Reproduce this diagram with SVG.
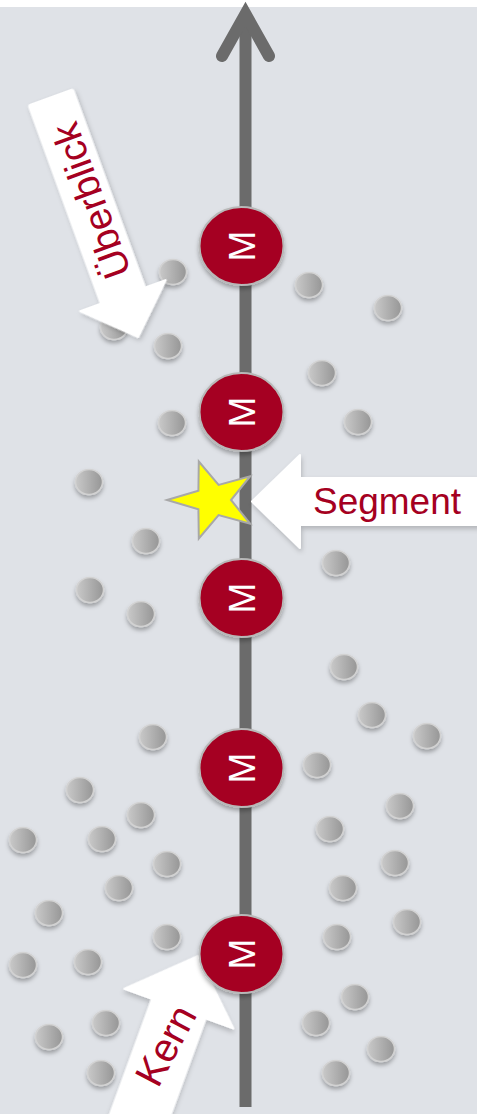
<svg xmlns="http://www.w3.org/2000/svg" width="477" height="1114" viewBox="0 0 477 1114">
<style>
.dot{fill:url(#dotg);stroke:#d2d2d2;stroke-width:1.5;filter:url(#sh)}
.m{fill:#a50021;stroke:#b8b8b8;stroke-width:2;filter:url(#sh)}
.mt{font-family:"Liberation Sans",Arial,sans-serif;font-size:37px;fill:#ffffff;text-anchor:middle}
.lbl{font-family:"Liberation Sans",Arial,sans-serif;font-size:37px;fill:#a50021;text-anchor:middle}
.arr{fill:#ffffff;stroke:#ffffff;stroke-width:2;stroke-linejoin:round;filter:url(#sh2)}
</style>
<defs>
<linearGradient id="dotg" x1="0" y1="0" x2="1" y2="0">
<stop offset="0" stop-color="#c9c9c9"/>
<stop offset="1" stop-color="#969696"/>
</linearGradient>
<filter id="sh" x="-50%" y="-50%" width="200%" height="200%">
<feDropShadow dx="0" dy="3" stdDeviation="2" flood-color="#000" flood-opacity="0.3"/>
</filter>
<filter id="sh2" x="-50%" y="-50%" width="200%" height="200%">
<feDropShadow dx="1" dy="3" stdDeviation="2.5" flood-color="#000" flood-opacity="0.2"/>
</filter>
</defs>
<rect x="0" y="0" width="477" height="1114" fill="#ffffff"/>
<rect x="0" y="7" width="477" height="1107" fill="#dfe2e7"/>
<g id="connectors">
<line x1="245.5" y1="1107" x2="245.5" y2="14" stroke="#6b6b6b" stroke-width="12"/>
<polyline points="222,56 245.5,14 269,56" fill="none" stroke="#6b6b6b" stroke-width="12" stroke-linecap="round" stroke-linejoin="miter"/>
</g>
<g id="dots">
<ellipse class="dot" cx="173" cy="272" rx="13.5" ry="12.5"/>
<ellipse class="dot" cx="309" cy="285" rx="13.5" ry="12.5"/>
<ellipse class="dot" cx="388" cy="308" rx="13.5" ry="12.5"/>
<ellipse class="dot" cx="114" cy="327" rx="13.5" ry="12.5"/>
<ellipse class="dot" cx="168" cy="346" rx="13.5" ry="12.5"/>
<ellipse class="dot" cx="322" cy="373" rx="13.5" ry="12.5"/>
<ellipse class="dot" cx="172" cy="423" rx="13.5" ry="12.5"/>
<ellipse class="dot" cx="358" cy="422" rx="13.5" ry="12.5"/>
<ellipse class="dot" cx="89" cy="482" rx="13.5" ry="12.5"/>
<ellipse class="dot" cx="146" cy="541" rx="13.5" ry="12.5"/>
<ellipse class="dot" cx="336" cy="563" rx="13.5" ry="12.5"/>
<ellipse class="dot" cx="90" cy="590" rx="13.5" ry="12.5"/>
<ellipse class="dot" cx="141" cy="614" rx="13.5" ry="12.5"/>
<ellipse class="dot" cx="344" cy="667" rx="13.5" ry="12.5"/>
<ellipse class="dot" cx="372" cy="715" rx="13.5" ry="12.5"/>
<ellipse class="dot" cx="427" cy="736" rx="13.5" ry="12.5"/>
<ellipse class="dot" cx="153" cy="737" rx="13.5" ry="12.5"/>
<ellipse class="dot" cx="317" cy="765" rx="13.5" ry="12.5"/>
<ellipse class="dot" cx="80" cy="790" rx="13.5" ry="12.5"/>
<ellipse class="dot" cx="141" cy="815" rx="13.5" ry="12.5"/>
<ellipse class="dot" cx="400" cy="806" rx="13.5" ry="12.5"/>
<ellipse class="dot" cx="23" cy="840" rx="13.5" ry="12.5"/>
<ellipse class="dot" cx="102" cy="839" rx="13.5" ry="12.5"/>
<ellipse class="dot" cx="330" cy="829" rx="13.5" ry="12.5"/>
<ellipse class="dot" cx="167" cy="864" rx="13.5" ry="12.5"/>
<ellipse class="dot" cx="395" cy="863" rx="13.5" ry="12.5"/>
<ellipse class="dot" cx="119" cy="888" rx="13.5" ry="12.5"/>
<ellipse class="dot" cx="343" cy="888" rx="13.5" ry="12.5"/>
<ellipse class="dot" cx="49" cy="913" rx="13.5" ry="12.5"/>
<ellipse class="dot" cx="407" cy="922" rx="13.5" ry="12.5"/>
<ellipse class="dot" cx="167" cy="937" rx="13.5" ry="12.5"/>
<ellipse class="dot" cx="337" cy="937" rx="13.5" ry="12.5"/>
<ellipse class="dot" cx="23" cy="965" rx="13.5" ry="12.5"/>
<ellipse class="dot" cx="88" cy="962" rx="13.5" ry="12.5"/>
<ellipse class="dot" cx="355" cy="997" rx="13.5" ry="12.5"/>
<ellipse class="dot" cx="106" cy="1023" rx="13.5" ry="12.5"/>
<ellipse class="dot" cx="316" cy="1023" rx="13.5" ry="12.5"/>
<ellipse class="dot" cx="49" cy="1037" rx="13.5" ry="12.5"/>
<ellipse class="dot" cx="381" cy="1049" rx="13.5" ry="12.5"/>
<ellipse class="dot" cx="101" cy="1073" rx="13.5" ry="12.5"/>
<ellipse class="dot" cx="336" cy="1073" rx="13.5" ry="12.5"/>
</g>
<g id="star">
<polygon points="167,500 198.4,490.7 198.8,461.5 218.6,484.9 250.2,476.2 231,500 250.2,523.8 218.6,515.1 198.8,538.5 198.4,509.3" fill="#ffff00" stroke="#a8a8a8" stroke-width="2" stroke-linejoin="miter"/>
</g>
<g id="ueberblick" transform="translate(138,337) rotate(-20)">
<path class="arr" d="M0,0 L-45.5,-44 L-23.5,-44 L-23.5,-253 Q-23.5,-255 -21.5,-255 L21.5,-255 Q23.5,-255 23.5,-253 L23.5,-44 L45.5,-44 Z"/>
<text class="lbl" transform="translate(0,-144) rotate(-90)" y="16" style="font-size:39px">Überblick</text>
</g>
<g id="segment">
<path class="arr" d="M252,501.5 L300,455 L300,478 L480,478 L480,525 L300,525 L300,548 Z"/>
<text class="lbl" x="387" y="514">Segment</text>
</g>
<g id="kern" transform="translate(198,956) rotate(20)">
<path class="arr" d="M0,0 L58,56 L28.5,56 L28.5,220 L-28.5,220 L-28.5,56 L-58,56 Z"/>
<text class="lbl" transform="translate(0,95) rotate(-82)" y="14" style="font-size:40px">Kern</text>
</g>
<g id="m1"><ellipse class="m" cx="241.5" cy="246" rx="42" ry="39"/><text class="mt" transform="translate(241.5,246) rotate(-90)" y="13">M</text></g>
<g id="m2"><ellipse class="m" cx="241.5" cy="412" rx="42" ry="39"/><text class="mt" transform="translate(241.5,412) rotate(-90)" y="13">M</text></g>
<g id="m3"><ellipse class="m" cx="241.5" cy="598" rx="42" ry="39"/><text class="mt" transform="translate(241.5,598) rotate(-90)" y="13">M</text></g>
<g id="m4"><ellipse class="m" cx="241.5" cy="768" rx="42" ry="39"/><text class="mt" transform="translate(241.5,768) rotate(-90)" y="13">M</text></g>
<g id="m5"><ellipse class="m" cx="241.5" cy="954" rx="42" ry="39"/><text class="mt" transform="translate(241.5,954) rotate(-90)" y="13">M</text></g>
</svg>
